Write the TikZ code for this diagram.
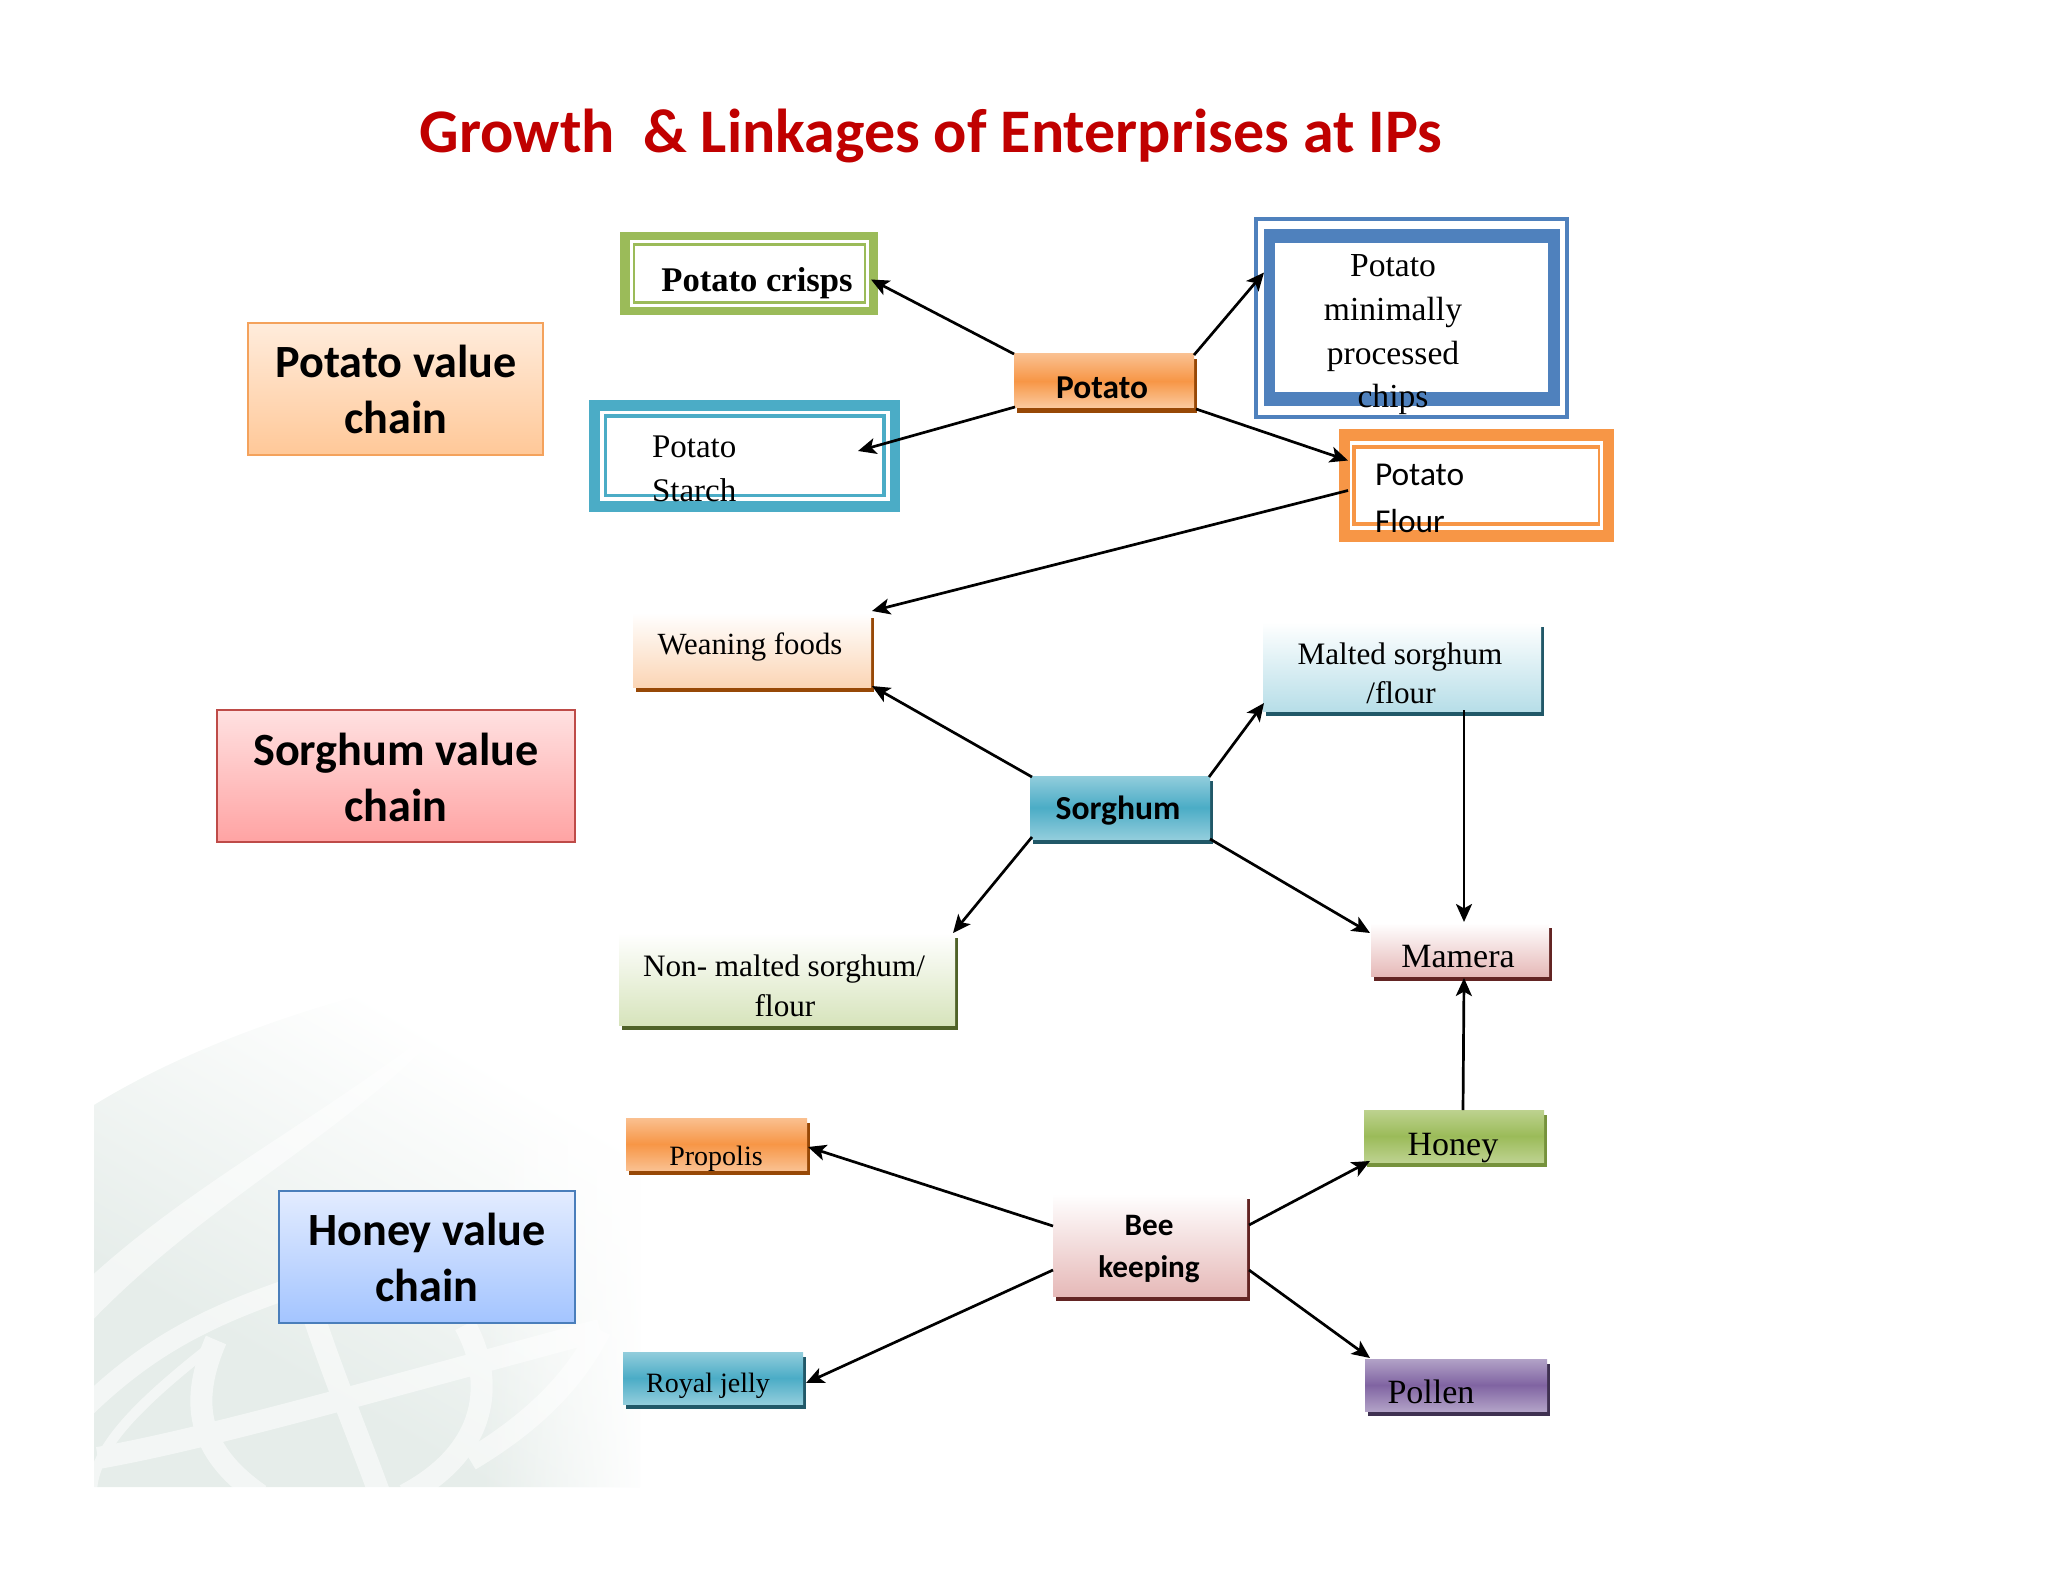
\documentclass[tikz,border=0pt]{standalone}
\usepackage{fontspec}
\setmainfont{Liberation Serif}
\newfontfamily\carl{Carlito}
\usetikzlibrary{arrows.meta,fadings}
\definecolor{cgreen}{HTML}{9BBB59}
\definecolor{cblue}{HTML}{4F81BD}
\definecolor{cteal}{HTML}{4BACC6}
\definecolor{corange}{HTML}{F79646}
\definecolor{sorange}{HTML}{974806}
\definecolor{steal}{HTML}{215868}
\definecolor{solive}{HTML}{4F6228}
\definecolor{sred}{HTML}{632423}
\definecolor{spurple}{HTML}{3F3151}
\definecolor{shoney}{HTML}{76923C}
\definecolor{wm}{HTML}{E6EDEA}
\definecolor{ctitle}{HTML}{C00000}
\newcommand\hexc[1]{\definecolor{#1}{HTML}{#1}}
\hexc{FFECDC}\hexc{FFC898}\hexc{F4A25C}\hexc{FFE1E1}\hexc{FFA3A3}\hexc{BE4B48}
\hexc{E3ECFF}\hexc{A3C4FF}\hexc{4A7EBB}\hexc{FAC090}\hexc{F79646}\hexc{FBCBA0}
\hexc{92CDDC}\hexc{4BACC6}\hexc{FBD5B5}\hexc{B7DEE8}\hexc{D7E4BC}\hexc{E6B9B8}
\hexc{BDD28F}\hexc{9BBB59}\hexc{B2A2C7}\hexc{8064A2}
\pgfdeclarehorizontalshading{wmshade}{100bp}{color(0bp)=(wm); color(34bp)=(wm); color(68bp)=(white); color(100bp)=(white)}
\tikzfading[name=wmright,left color=transparent!100,right color=transparent!0]
\tikzset{
  pxrect/.style={rectangle,inner sep=0pt,outer sep=0pt},
  flat/.style={pxrect,fill=#1},
  shad/.style={pxrect,preaction={draw=none,fill=#1,transform canvas={shift={(1.5pt,-2.5pt)}}}},
  tribox/.style n args={4}{shad=#4,top color=#1,bottom color=#3,middle color=#2},
  fadebox/.style 2 args={shad=#2,top color=white,bottom color=#1},
  chainbox/.style n args={3}{pxrect,draw=#3,line width=0.8pt,top color=#1,bottom color=#2},
  arr/.style={draw=black,line width=1.35pt,-{Stealth[length=9pt,width=8pt,inset=2.2pt]}},
  lab/.style={inner sep=0pt,outer sep=0pt,text=black,yshift=-2.3pt},
  sfb/.style={lab,font=\carl\bfseries\fontsize{#1}{#1}\selectfont},
  sf/.style={lab,font=\carl\fontsize{#1}{#1}\selectfont},
  rm/.style={lab,font=\fontsize{#1}{#1}\selectfont},
  rmb/.style={lab,font=\bfseries\fontsize{#1}{#1}\selectfont},
  band/.style={draw=white,line cap=butt}
}
\newcommand\pxbox[6]{%
  \pgfmathsetmacro\cxx{(#3+#5)/2}\pgfmathsetmacro\cyy{(#4+#6)/2}%
  \pgfmathsetmacro\wdd{(#5-#3)*0.5}\pgfmathsetmacro\htt{(#6-#4)*0.5}%
  \node[#2,minimum width=\wdd pt,minimum height=\htt pt] (#1) at (\cxx,\cyy) {};}
\newcommand\pxtxt[5]{\node[#2] (#1) at (#3,#4) {\strut #5};}
\begin{document}
\begin{tikzpicture}[x=0.5pt,y=-0.5pt]
\useasboundingbox (0,0) rectangle (2048,1582);
% watermark
\begin{scope}
\clip (94,1487) -- (94,1105) .. controls (200,1040) and (330,1000) .. (440,975)
  .. controls (470,965) and (500,950) .. (540,960) -- (700,1100) -- (700,1487) -- cycle;
\shade[shading=wmshade,shading angle=60] (94,950) rectangle (640,1487);
\begin{scope}[transparency group,opacity=0.55]
\fill[white] (85,1282) .. controls (200,1175) and (340,1110) .. (470,1000)
  .. controls (360,1130) and (210,1195) .. (85,1328) -- cycle;
\draw[band,line width=10pt] (85,1408) .. controls (150,1345) and (210,1315) .. (300,1285);
\draw[band,line width=5pt] (92,1490) .. controls (95,1450) and (130,1410) .. (213,1345);
\draw[band,line width=11pt] (98,1458) .. controls (200,1440) and (340,1400) .. (600,1330);
\draw[band,line width=11pt] (216,1340) .. controls (190,1400) and (195,1450) .. (260,1495);
\draw[band,line width=11pt] (315,1320) .. controls (335,1380) and (360,1440) .. (380,1495);
\draw[band,line width=11pt] (465,1325) .. controls (495,1380) and (490,1450) .. (405,1495);
\draw[band,line width=11pt] (600,1330) .. controls (570,1390) and (520,1430) .. (470,1460);
\end{scope}
\fill[white,path fading=wmright] (480,930) rectangle (655,1490);
\end{scope}
% title
\pxtxt{title}{sfb=31,text=ctitle,yshift=-1.7pt}{931}{132}{Growth\ \ \& Linkages of Enterprises at IPs}
% chain labels
\pxbox{potchain}{chainbox={FFECDC}{FFC898}{F4A25C}}{248}{323}{543}{455}
\pxbox{sorchain}{chainbox={FFE1E1}{FFA3A3}{BE4B48}}{217}{710}{575}{842}
\pxbox{honchain}{chainbox={E3ECFF}{A3C4FF}{4A7EBB}}{279}{1191}{575}{1323}
\pxtxt{potchaina}{sfb=23.1}{396}{364}{Potato value}
\pxtxt{potchainb}{sfb=23.1}{396}{420}{chain}
\pxtxt{sorchaina}{sfb=23.1}{396}{752}{Sorghum value}
\pxtxt{sorchainb}{sfb=23.1}{396}{808}{chain}
\pxtxt{honchaina}{sfb=23.1}{427}{1232}{Honey value}
\pxtxt{honchainb}{sfb=23.1}{427}{1288}{chain}
% crisps frame
\pxbox{crisps}{flat=cgreen}{620}{232}{878}{315}
\pxbox{crispsa}{flat=white}{629.5}{240}{869}{307}
\pxbox{crispsb}{flat=cgreen}{632.5}{243}{866}{304}
\pxbox{crispsc}{flat=white}{634.5}{246}{864}{301}
\pxtxt{crispst}{rmb=17.3}{757}{280}{Potato crisps}
% minimally frame
\pxbox{minim}{flat=cblue}{1254}{217}{1569}{419}
\pxbox{minima}{flat=white}{1258}{221}{1565}{415}
\pxbox{minimb}{flat=cblue}{1264}{229}{1560}{406}
\pxbox{minimc}{flat=white}{1275}{243}{1548}{392}
\pxtxt{minimt1}{rm=16.8}{1393}{265}{Potato}
\pxtxt{minimt2}{rm=16.8}{1393}{309.5}{minimally}
\pxtxt{minimt3}{rm=16.8}{1393}{353}{processed}
\pxtxt{minimt4}{rm=16.8}{1393}{396}{chips}
% starch frame
\pxbox{starch}{flat=cteal}{589}{400}{900}{512}
\pxbox{starcha}{flat=white}{600}{411}{890}{501}
\pxbox{starchb}{flat=cteal}{604}{414}{886}{497}
\pxbox{starchc}{flat=white}{607}{418}{882}{494}
\pxtxt{starcht1}{rm=16.5,anchor=west}{652}{446}{Potato}
\pxtxt{starcht2}{rm=16.5,anchor=west}{652}{490}{Starch}
% flour frame
\pxbox{flour}{flat=corange}{1339}{429}{1614}{542}
\pxbox{floura}{flat=white}{1350}{441}{1603}{530}
\pxbox{flourb}{flat=corange}{1352}{445}{1600}{526}
\pxbox{flourc}{flat=white}{1355.5}{449}{1598}{522}
\pxtxt{flourt1}{sf=16.7,anchor=west}{1375}{474}{Potato}
\pxtxt{flourt2}{sf=16.7,anchor=west}{1375}{521}{Flour}
% hubs and products
\pxbox{potato}{tribox={FAC090}{F79646}{FBCBA0}{sorange}}{1014}{354}{1194}{408}
\pxtxt{potatot}{sfb=16.7}{1102}{387}{Potato}
\pxbox{sorghum}{tribox={92CDDC}{4BACC6}{92CDDC}{steal}}{1030}{776}{1210}{839}
\pxtxt{sorghumt}{sfb=16.8}{1118}{808}{Sorghum}
\pxbox{weaning}{fadebox={FBD5B5}{sorange}}{633}{613}{871}{687}
\pxtxt{weaningt}{rm=15.4}{750}{644}{Weaning foods}
\pxbox{malted}{fadebox={B7DEE8}{steal}}{1263}{622}{1541}{711}
\pxtxt{maltedt1}{rm=15.6}{1400}{654}{Malted sorghum}
\pxtxt{maltedt2}{rm=15.6}{1401}{693}{/flour}
\pxbox{nonmalted}{fadebox={D7E4BC}{solive}}{619}{933}{955}{1025}
\pxtxt{nonmaltedt1}{rm=15.6}{784}{966}{Non- malted sorghum/}
\pxtxt{nonmaltedt2}{rm=15.6}{785}{1006}{flour}
\pxbox{mamera}{fadebox={E6B9B8}{sred}}{1371}{923}{1549}{976}
\pxtxt{mamerat}{rm=17}{1458}{956}{Mamera}
\pxbox{honey}{tribox={BDD28F}{9BBB59}{BDD28F}{shoney}}{1364}{1110}{1544}{1162}
\pxtxt{honeyt}{rm=17}{1453}{1144}{Honey}
\pxbox{propolis}{tribox={FAC090}{F79646}{FAC090}{sorange}}{626}{1118}{807}{1170}
\pxtxt{propolist}{rm=14}{716}{1155}{Propolis}
\pxbox{bee}{fadebox={E6B9B8}{sred}}{1053}{1194}{1247}{1296}
\pxtxt{beet1}{sfb=15.6}{1149}{1225}{Bee}
\pxtxt{beet2}{sfb=15.6}{1149}{1267}{keeping}
\pxbox{royal}{tribox={92CDDC}{4BACC6}{92CDDC}{steal}}{623}{1352}{803}{1404}
\pxtxt{royalt}{rm=14}{708}{1382}{Royal jelly}
\pxbox{pollen}{tribox={B2A2C7}{8064A2}{B2A2C7}{spurple}}{1365}{1359}{1547}{1411}
\pxtxt{pollent}{rm=17}{1431}{1392}{Pollen}
% connectors
\draw[arr] (potato.north west) -- ([shift={(-7,6)}]crisps.east);
\draw[arr] ([shift={(0,1)}]potato.north east) -- ([shift={(0,-45)}]minimb.west);
\draw[arr] ([shift={(1,-1)}]potato.south west) -- ([shift={(-42,-5)}]starch.east);
\draw[arr] ([shift={(2,1)}]potato.south east) -- ([shift={(9,-25)}]flour.west);
\draw[arr] ([shift={(9,5)}]flour.west) -- ([shift={(1,-2)}]weaning.north east);
\draw[arr] ([shift={(2,1)}]sorghum.north west) -- ([shift={(1,-1)}]weaning.south east);
\draw[arr] ([shift={(-1,1)}]sorghum.north east) -- ([shift={(1,-8)}]malted.south west);
\draw[arr] ([shift={(2,-2)}]sorghum.south west) -- ([shift={(-2,0)}]nonmalted.north east);
\draw[arr] (sorghum.south east) -- ([shift={(-1,10)}]mamera.north west);
\draw[arr] ([shift={(62,-1)}]malted.south) -- ([shift={(4,-1)}]mamera.north);
\draw[arr] ([shift={(9,0)}]honey.north) -- ([shift={(4,2)}]mamera.south);
\draw[arr] ([shift={(0,-19)}]bee.west) -- ([shift={(1,3)}]propolis.east);
\draw[arr] ([shift={(0,25)}]bee.west) -- ([shift={(3,5)}]royal.east);
\draw[arr] ([shift={(2,-20)}]bee.east) -- ([shift={(6,-1)}]honey.south west);
\draw[arr] ([shift={(2,25)}]bee.east) -- ([shift={(5,-1)}]pollen.north west);
\end{tikzpicture}
\end{document}
